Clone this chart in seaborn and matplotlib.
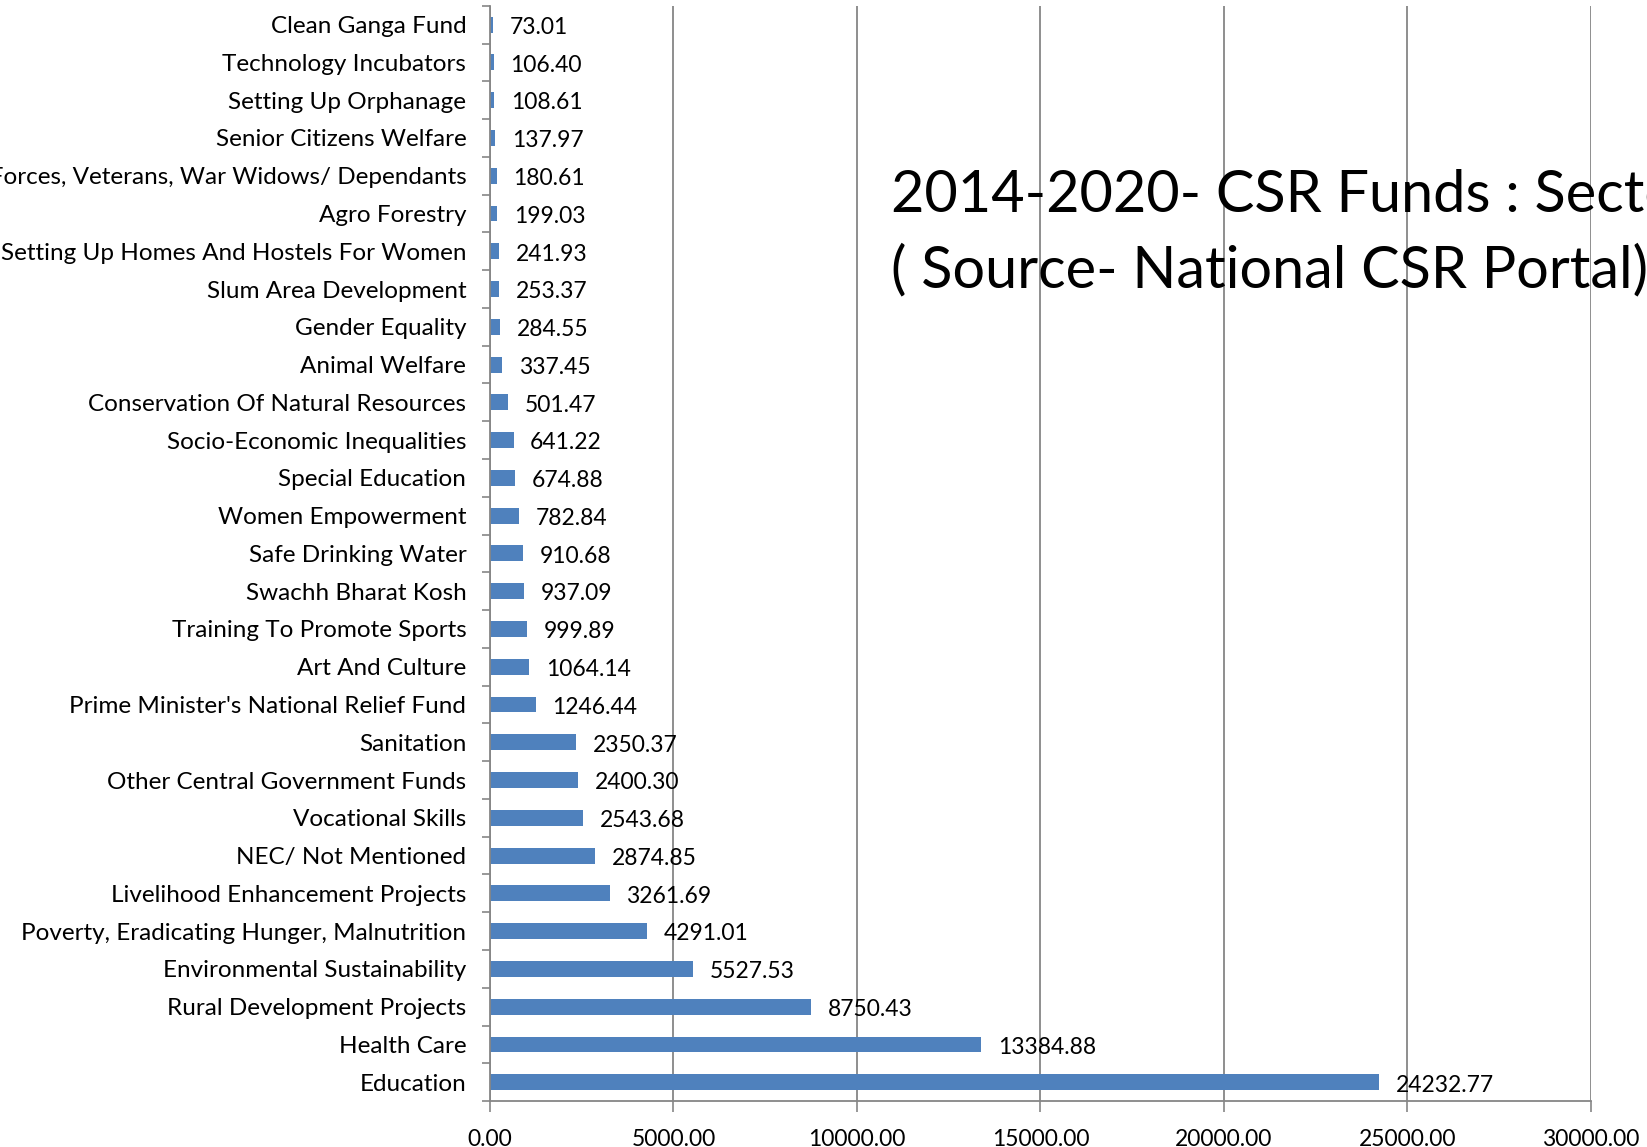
import matplotlib
matplotlib.use("Agg")
import matplotlib.pyplot as plt
import seaborn as sns
import pandas as pd
import numpy as np

categories = [
    "Clean Ganga Fund", "Technology Incubators", "Setting Up Orphanage",
    "Senior Citizens Welfare", "Armed Forces, Veterans, War Widows/ Dependants",
    "Agro Forestry", "Setting Up Homes And Hostels For Women",
    "Slum Area Development", "Gender Equality", "Animal Welfare",
    "Conservation Of Natural Resources", "Socio-Economic Inequalities",
    "Special Education", "Women Empowerment", "Safe Drinking Water",
    "Swachh Bharat Kosh", "Training To Promote Sports", "Art And Culture",
    "Prime Minister's National Relief Fund", "Sanitation",
    "Other Central Government Funds", "Vocational Skills",
    "NEC/ Not Mentioned", "Livelihood Enhancement Projects",
    "Poverty, Eradicating Hunger, Malnutrition",
    "Environmental Sustainability", "Rural Development Projects",
    "Health Care", "Education",
]
values = [
    73.01, 106.40, 108.61, 137.97, 180.61, 199.03, 241.93, 253.37, 284.55,
    337.45, 501.47, 641.22, 674.88, 782.84, 910.68, 937.09, 999.89, 1064.14,
    1246.44, 2350.37, 2400.30, 2543.68, 2874.85, 3261.69, 4291.01, 5527.53,
    8750.43, 13384.88, 24232.77,
]
xticks = [0, 5000, 10000, 15000, 20000, 25000, 30000]
title_lines = ["2014-2020- CSR Funds : Sector Wise Spend",
               "( Source- National CSR Portal)"]

sns.set_theme(style="white")
plt.rcParams['font.family'] = ['Lato', 'DejaVu Sans']
plt.rcParams['text.color'] = 'black'
plt.rcParams['xtick.color'] = 'black'
plt.rcParams['ytick.color'] = 'black'

df = pd.DataFrame({"cat": categories, "val": values})

fig = plt.figure(figsize=(16.47, 11.47), dpi=100)
ax = fig.add_axes([0.2975, 0.040, 0.6685, 0.955])
sns.barplot(data=df, y="cat", x="val", order=categories, orient="h",
            color="#4F81BD", saturation=1, width=0.42, ax=ax, edgecolor="none")

ax.set_xlim(0, 30000)
ax.set_ylim(len(categories) - 0.5, -0.5)
ax.set_xticks(xticks)
ax.set_xticklabels([f"{t:.2f}" for t in xticks], fontsize=16.5)
ax.tick_params(axis="x", length=8, width=1.2, color="#868686", labelcolor="black",
               pad=12, bottom=True, direction="out")
ax.tick_params(axis="y", which="major", length=0, pad=17, labelsize=17.5,
               labelcolor="black")
ax.set_yticks(np.arange(-0.5, len(categories), 1.0), minor=True)
ax.tick_params(axis="y", which="minor", length=6, width=1.2, color="#868686",
               left=True, direction="out")
ax.set_xlabel("")
ax.set_ylabel("")
ax.xaxis.grid(True, color="#868686", linewidth=1.3)
ax.set_axisbelow(True)
for s in ["top", "right"]:
    ax.spines[s].set_visible(False)
for s in ["left", "bottom"]:
    ax.spines[s].set_color("#868686")
    ax.spines[s].set_linewidth(1.3)

for i, v in enumerate(values):
    ax.annotate(f"{v:.2f}", xy=(v, i), xytext=(12, -2), textcoords="offset points",
                va="center", ha="left", fontsize=16.5, color="black")

fig.text(891 / 1647, 1 - 196 / 1147, title_lines[0], fontsize=41.5,
         va="center", ha="left", color="black")
fig.text(891 / 1647, 1 - 271 / 1147, title_lines[1], fontsize=41.5,
         va="center", ha="left", color="black")

fig.savefig("out.png", dpi=100)
